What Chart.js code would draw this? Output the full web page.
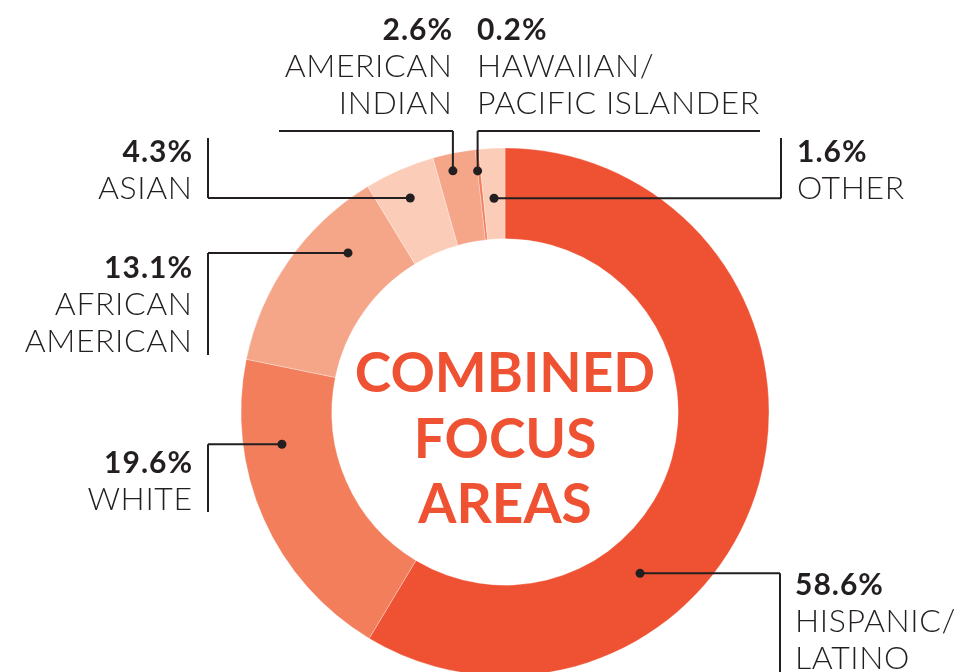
<!DOCTYPE html>
<html>
<head>
<meta charset="utf-8">
<script src="https://cdn.jsdelivr.net/npm/chart.js@4.4.1/dist/chart.umd.min.js"></script>
<style>
  html, body { margin: 0; padding: 0; background: #fff; overflow: hidden; }
  #focusChart { display: block; }
</style>
</head>
<body>
<canvas id="focusChart" width="954" height="700"></canvas>
<script>
// share of residents by race / ethnicity, percent
var groups = [
  ["HISPANIC/", "LATINO"],
  ["WHITE"],
  ["AFRICAN", "AMERICAN"],
  ["ASIAN"],
  ["AMERICAN", "INDIAN"],
  ["HAWAIIAN/", "PACIFIC ISLANDER"],
  ["OTHER"]
];
var shares = [58.6, 19.6, 13.1, 4.3, 2.6, 0.2, 1.6];
var centerTitle = ["COMBINED", "FOCUS", "AREAS"];

var sliceColors = ["#EF5233", "#F37E5C", "#F6A688", "#FBCDB9", "#F6A688", "#F37E5C", "#FBCDB9"];
var ink = "#231F20";
var labelFont = "Lato, 'Open Sans', sans-serif";

// where each callout sits: t = position along the slice, rf = position across the ring
// kind "h": horizontal leader to x = bx, then a bar up/down to y = bTo
// kind "v": vertical leader up to y = by, then a bar sideways to x = bTo
var callouts = [
  { t: 0.664, rf: 0.41, kind: "h", bx: 780, bTo: 700, tx: 795, ty: 595, align: "left" },
  { t: 0.72, rf: 0.575, kind: "h", bx: 208, bTo: 512, tx: 192, ty: 473, align: "right" },
  { t: 0.718, rf: 0.554, kind: "h", bx: 208, bTo: 355, tx: 192, ty: 278, align: "right" },
  { t: 0.48, rf: 0.67, kind: "h", bx: 208, bTo: 138, tx: 192, ty: 162, align: "right" },
  { t: 0.39, rf: 0.81, kind: "v", by: 131, bTo: 279, tx: 452, ty: 40, align: "right" },
  { t: 0.0, rf: 0.765, kind: "v", by: 131, bTo: 760, tx: 477, ty: 40, align: "left" },
  { t: 0.49, rf: 0.45, kind: "h", bx: 781, bTo: 138, tx: 797, ty: 162, align: "left" }
];

// canvas letterSpacing also pads after the last glyph, so nudge right-aligned text
function spacedText(ctx, text, x, y, align, spacing) {
  ctx.letterSpacing = spacing + "px";
  ctx.fillText(text, align === "right" ? x + spacing : x, y);
  ctx.letterSpacing = "0px";
}

var calloutPlugin = {
  id: "callouts",
  afterDatasetsDraw: function (chart) {
    var ctx = chart.ctx;
    var arcs = chart.getDatasetMeta(0).data;
    ctx.save();

    // title in the hole
    var a0 = arcs[0];
    ctx.fillStyle = "#EF5233";
    ctx.font = "bold 55px " + labelFont;
    ctx.textAlign = "center";
    ctx.textBaseline = "alphabetic";
    centerTitle.forEach(function (line, i) {
      ctx.fillText(line, a0.x, 392 + i * 65.5);
    });

    ctx.strokeStyle = ink;
    ctx.fillStyle = ink;
    ctx.lineWidth = 2;
    arcs.forEach(function (arc, i) {
      var c = callouts[i];
      var ang = arc.startAngle + c.t * (arc.endAngle - arc.startAngle);
      var rad = arc.innerRadius + c.rf * (arc.outerRadius - arc.innerRadius);
      var px = arc.x + Math.cos(ang) * rad;
      var py = arc.y + Math.sin(ang) * rad;

      ctx.beginPath();
      ctx.moveTo(px, py);
      if (c.kind === "h") {
        ctx.lineTo(c.bx, py);
        ctx.moveTo(c.bx, py);
        ctx.lineTo(c.bx, c.bTo);
      } else {
        ctx.lineTo(px, c.by);
        ctx.moveTo(px, c.by);
        ctx.lineTo(c.bTo, c.by);
      }
      ctx.stroke();

      ctx.beginPath();
      ctx.arc(px, py, 4.5, 0, Math.PI * 2);
      ctx.fill();

      ctx.textAlign = c.align;
      ctx.font = "bold 30px " + labelFont;
      spacedText(ctx, shares[i].toFixed(1) + "%", c.tx, c.ty, c.align, 1);
      ctx.font = "300 32px " + labelFont;
      groups[i].forEach(function (line, j) {
        spacedText(ctx, line, c.tx, c.ty + 37 * (j + 1), c.align, 0.6);
      });
    });
    ctx.restore();
  }
};

new Chart(document.getElementById("focusChart"), {
  type: "doughnut",
  data: {
    labels: groups.map(function (g) { return g.join(" "); }),
    datasets: [{
      data: shares,
      backgroundColor: sliceColors,
      borderColor: "rgba(255,255,255,0.6)",
      borderWidth: 0.5
    }]
  },
  options: {
    responsive: false,
    animation: false,
    radius: 264,
    cutout: 173,
    layout: { padding: { left: 241, right: 185, top: 148, bottom: 24 } },
    plugins: {
      legend: { display: false },
      tooltip: { enabled: false }
    }
  },
  plugins: [calloutPlugin]
});
</script>
</body>
</html>
